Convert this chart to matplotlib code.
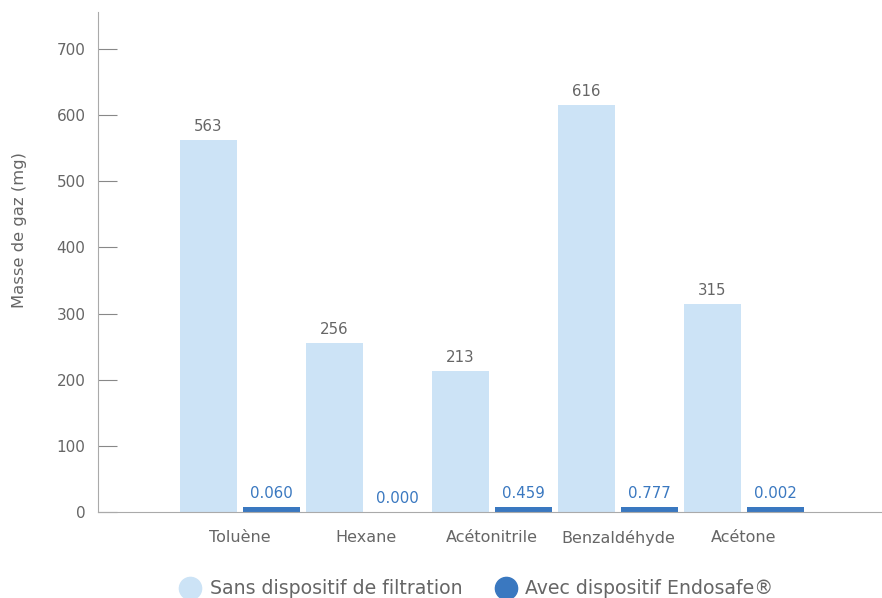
import numpy as np
import matplotlib.pyplot as plt
from matplotlib.lines import Line2D

categories = ['Toluène', 'Hexane', 'Acétonitrile', 'Benzaldéhyde', 'Acétone']
sans_filtration = [563, 256, 213, 616, 315]
avec_endosafe = [0.060, 0.000, 0.459, 0.777, 0.002]
sans_labels = ['563', '256', '213', '616', '315']
avec_labels = ['0.060', '0.000', '0.459', '0.777', '0.002']

light = '#cce3f6'
dark = '#3a78c0'
grey = '#666666'
plt.rcParams['font.family'] = ['DejaVu Sans']

fig = plt.figure(figsize=(8.82, 5.98), dpi=100)
ax = fig.add_axes([98 / 882, 86 / 598, 784 / 882, 500 / 598])

x = np.arange(len(categories))
w = 0.455
# the original chart keeps a minimum visible bar length for non-zero values
min_len = 7
avec_drawn = [max(v, min_len) if v > 0 else 0 for v in avec_endosafe]

ax.bar(x - 0.25, sans_filtration, w, color=light)
ax.bar(x + 0.25, avec_drawn, w, color=dark)

for xi, v, t in zip(x, sans_filtration, sans_labels):
    ax.text(xi - 0.25, v + 9, t, ha='center', va='bottom', fontsize=10.8, color=grey)
for xi, v, t in zip(x, avec_drawn, avec_labels):
    ax.text(xi + 0.25, v + 9, t, ha='center', va='bottom', fontsize=10.8, color=dark)

ax.set_xlim(-1.127, 5.095)
ax.set_ylim(0, 756)
ax.set_yticks(range(0, 701, 100))
ax.set_xticks(x)
ax.set_xticklabels(categories)
ax.tick_params(axis='y', direction='in', length=14, color='#888888', labelcolor=grey,
               labelsize=11, pad=9)
ax.tick_params(axis='x', length=0, labelcolor=grey, labelsize=11.5, pad=13)

for s in ['top', 'right']:
    ax.spines[s].set_visible(False)
ax.spines['left'].set_color('#aaaaaa')
ax.spines['bottom'].set_color('#aaaaaa')

fig.text(20 / 882, 1 - 230 / 598, 'Masse de gaz (mg)', rotation=90, ha='center', va='center',
         fontsize=11.8, color=grey)

handles = [Line2D([], [], marker='o', ls='', markersize=16, color=light),
           Line2D([], [], marker='o', ls='', markersize=16, color=dark)]
leg = fig.legend(handles, ['Sans dispositif de filtration', 'Avec dispositif Endosafe®'],
                 loc='center', bbox_to_anchor=(476 / 882, 1 - 589 / 598), ncol=2, frameon=False,
                 fontsize=13.6, handletextpad=0.45, columnspacing=1.7, handlelength=1.2)
for t in leg.get_texts():
    t.set_color(grey)

fig.savefig('out.png', dpi=100)
